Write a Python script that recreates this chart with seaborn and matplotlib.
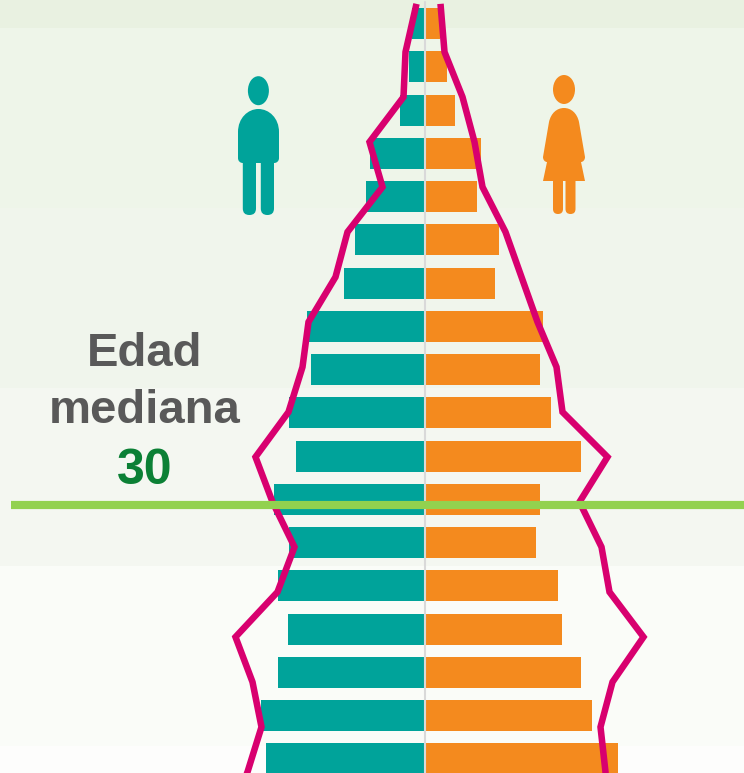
import numpy as np
import pandas as pd
import seaborn as sns
import matplotlib
matplotlib.use("Agg")
import matplotlib.pyplot as plt
from matplotlib.patches import Ellipse, PathPatch, FancyBboxPatch
from matplotlib.path import Path

sns.set_theme(style="white")
plt.rcParams['font.family'] = ['Liberation Sans', 'DejaVu Sans']

# Age groups, oldest first (row 0 at the top)
rows = list(range(18))
men = [13, 16, 25, 55, 59, 70, 81, 118, 114, 136, 129, 151, 136, 147, 137, 147, 164, 159]
women = [15, 22, 30, 56, 52, 74, 70, 118, 115, 126, 156, 115, 111, 133, 137, 156, 167, 193]

# Comparison outline (second period), its own row scale
line_rows = [-0.07, 1, 2, 3, 4, 5, 6, 7, 8, 9, 10, 11, 12, 13, 14, 15, 16, 17, 17.05]
line_men = [8, 19, 21, 55, 42, 77, 89, 116, 122, 136, 169, 152, 130, 147, 189, 172, 163, 177, 178]
line_women = [16, 20, 38, 50, 58, 81, 97, 113, 132, 138, 183, 155, 177, 185, 219, 188, 176, 181, 181]

median_label = "30"
median_row = 11.07

teal, orange, pink = "#00A39A", "#F48A1E", "#D8006F"
W, H, CX = 744, 773, 424.5

fig = plt.figure(figsize=(W / 100, H / 100), dpi=100)
ax = fig.add_axes([0, 0, 1, 1])
df = pd.DataFrame({"row": rows + rows,
                   "value": [-v for v in men] + women,
                   "sex": ["Hombres"] * 18 + ["Mujeres"] * 18})
sns.barplot(data=df, x="value", y="row", hue="sex", orient="h", native_scale=True,
            palette={"Hombres": teal, "Mujeres": orange}, width=31 / 43.25,
            dodge=False, legend=False, ax=ax, saturation=1, zorder=3, linewidth=0)
xlim = (-CX, W - CX)
ylim = ((H - 23.5) / 43.25, -23.5 / 43.25)
ax.set_xlim(xlim)
ax.set_ylim(ylim)

# Background bands
edges = [ylim[1], 0.104, 4.266, 8.428, 12.54, 16.7, ylim[0]]
bands = ["#E9F1E1", "#EEF5E9", "#F0F5EC", "#F4F7F1", "#FAFCF8", "#FDFDFC"]
for a, b, c in zip(edges[:-1], edges[1:], bands):
    ax.axhspan(a, b, color=c, lw=0, zorder=0)
ax.axvline(0, ymin=0, ymax=1 - 2 / H, color="#D9D9D9", lw=1.5, zorder=4)
ax.axis("off")

# Outline on its own row scale
ax2 = ax.twinx()
ax2.set_xlim(xlim)
ax2.patch.set_visible(False)
for vals in ([-v for v in line_men], line_women):
    sns.lineplot(x=vals, y=line_rows, sort=False, estimator=None, orient="y", color=pink,
                 lw=4.7, ax=ax2, zorder=5, solid_joinstyle="miter", solid_capstyle="butt")
ax2.plot([11 - CX, W - CX], [median_row, median_row], color="#92D14F", lw=5.9,
         zorder=6, solid_capstyle="butt")
ax2.set_xlim(xlim)
ax2.set_ylim((H - 7) / 45, -7 / 45)
ax2.axis("off")

# Overlay in picture coordinates: icons and text
ov = fig.add_axes([0, 0, 1, 1])
ov.set_xlim(0, W)
ov.set_ylim(H, 0)
ov.axis("off")
ov.patch.set_visible(False)

def rounded(x0, y0, x1, y1, r, color):
    ov.add_patch(FancyBboxPatch((x0 + r, y0 + r), x1 - x0 - 2 * r, y1 - y0 - 2 * r,
                                boxstyle=f"round,pad={r},rounding_size={r}", fc=color, lw=0))

# Man
ov.add_patch(Ellipse((258.4, 90.7), 21, 29, fc=teal, lw=0))
M, C, L = Path.MOVETO, Path.CURVE4, Path.LINETO
man = [(238, 132), (238, 118), (248, 109), (258.4, 109), (269, 109), (279, 118), (279, 132),
       (279, 158), (279, 161), (277, 163), (274, 163), (243, 163), (240, 163), (238, 161), (238, 158),
       (238, 132)]
man_c = [M, C, C, C, C, C, C, L, C, C, C, L, C, C, C, Path.CLOSEPOLY]
ov.add_patch(PathPatch(Path(man, man_c), fc=teal, lw=0))
rounded(242.8, 155, 256, 215, 6.5, teal)
rounded(260.8, 155, 274, 215, 6.5, teal)

# Woman
ov.add_patch(Ellipse((564, 89.5), 22, 29, fc=orange, lw=0))
woman = [(549, 122), (551, 113), (557, 108), (564, 108), (571, 108), (577, 113), (579, 122),
         (585, 157), (585, 160), (583, 162), (581, 162), (585, 181), (543, 181), (547, 162),
         (545, 162), (543, 160), (543, 157), (549, 122)]
woman_c = [M, C, C, C, C, C, C, L, C, C, C, L, L, L, C, C, C, Path.CLOSEPOLY]
ov.add_patch(PathPatch(Path(woman, woman_c), fc=orange, lw=0))
rounded(553, 170, 563, 214, 5, orange)
rounded(565.5, 170, 575.5, 214, 5, orange)

ov.text(145, 353.5, "Edad", ha="center", va="center", fontsize=34, fontweight="bold", color="#595959")
ov.text(145, 411, "mediana", ha="center", va="center", fontsize=34, fontweight="bold", color="#595959")
ov.text(145, 471.5, median_label, ha="center", va="center", fontsize=36, fontweight="bold", color="#0B8035")

fig.savefig("out.png", dpi=100)
